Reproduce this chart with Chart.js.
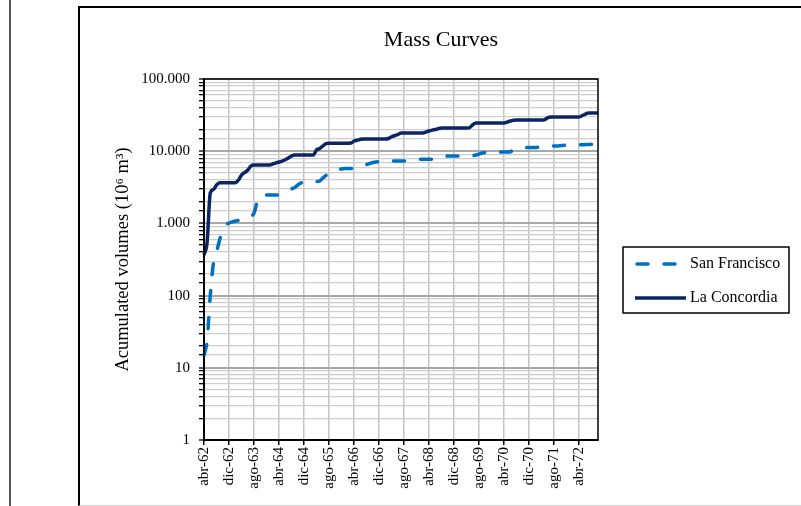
<!DOCTYPE html>
<html>
<head>
<meta charset="utf-8">
<script src="https://cdn.jsdelivr.net/npm/chart.js@4.4.0/dist/chart.umd.min.js"></script>
<style>
  html, body { margin: 0; padding: 0; background: #fff; }
  #wrap { position: relative; width: 801px; height: 506px; overflow: hidden; }
  #edge { position: absolute; left: 9px; top: 0; width: 2px; height: 506px; background: #555; }
  #frame { position: absolute; left: 78px; top: 6px; width: 760px; height: 497px;
           border-left: 2px solid #000; border-top: 2px solid #000; border-bottom: 1px solid #d4d4d4; }
  canvas { position: absolute; left: 0; top: 0; }
</style>
</head>
<body>
<div id="wrap">
  <div id="edge"></div>
  <div id="frame"></div>
  <canvas id="myChart" width="801" height="506"></canvas>
</div>
<script>
    // monthly series, abr-62 .. oct-72 (10^6 m3, accumulated)
    const monthNames = ['ene', 'feb', 'mar', 'abr', 'may', 'jun', 'jul', 'ago', 'sep', 'oct', 'nov', 'dic'];
    const startMonth = 3;   // abr
    const startYear = 62;
    const monthCount = 127;

    const sanFrancisco = [
      15, 24, 100, 280, 400, 590, 810, 950, 1010, 1050,
      1080, 1100, 1130, 1170, 1200, 1250, 1390, 1980, 2400, 2470,
      2470, 2470, 2470, 2470, 2480, 2600, 2760, 2900, 3010, 3140,
      3400, 3630, 3740, 3800, 3800, 3800, 3800, 3870, 4250, 4610,
      4830, 5070, 5320, 5580, 5670, 5760, 5760, 5760, 5760, 5950,
      6140, 6320, 6550, 6760, 6970, 7090, 7160, 7310, 7310, 7310,
      7310, 7310, 7310, 7310, 7310, 7380, 7430, 7500, 7600, 7720,
      7720, 7720, 7720, 7720, 7920, 8110, 8320, 8500, 8590, 8590,
      8590, 8590, 8590, 8590, 8590, 8620, 8690, 8860, 9150, 9440,
      9590, 9740, 9740, 9740, 9740, 9740, 9740, 9740, 9840, 10550,
      10900, 10970, 11250, 11250, 11250, 11250, 11250, 11330, 11330, 11430,
      11610, 11730, 11800, 11800, 11920, 12040, 12190, 12190, 12190, 12250,
      12250, 12300, 12350, 12400, 12450, 12470, 12470
    ];

    const laConcordia = [
      365, 552, 2640, 2950, 3400, 3660, 3660, 3660, 3660, 3660,
      3660, 3990, 4680, 5070, 5490, 6240, 6450, 6450, 6450, 6450,
      6450, 6450, 6650, 6870, 7090, 7270, 7600, 8050, 8590, 8860,
      8860, 8860, 8860, 8860, 8860, 8860, 10400, 10900, 11800, 12700,
      12880, 12880, 12880, 12880, 12880, 12880, 12880, 12950, 13850, 14150,
      14600, 14760, 14760, 14760, 14760, 14760, 14760, 14760, 14760, 15000,
      15850, 16500, 17020, 17860, 17860, 17860, 17860, 17860, 17860, 17860,
      17860, 18450, 19050, 19600, 19950, 20600, 20950, 20950, 20950, 20950,
      20950, 20950, 20950, 20950, 20950, 21300, 23400, 24560, 24560, 24560,
      24560, 24560, 24560, 24560, 24560, 24560, 24560, 25370, 26170, 26870,
      27060, 27060, 27060, 27060, 27060, 27060, 27060, 27060, 27060, 27470,
      29290, 29760, 29760, 29760, 29760, 29760, 29760, 29760, 29760, 29760,
      29760, 31180, 32730, 33810, 33810, 33810, 33810
    ];

    const labelEvery = 8;

    const months = [];
    for (let i = 0; i < monthCount; i++) {
      const m = (startMonth + i) % 12;
      const y = startYear + Math.floor((startMonth + i) / 12);
      months.push(monthNames[m] + '-' + y);
    }

    const serif = "'Liberation Serif', 'Times New Roman', serif";

    function isDecade(v) {
      const l = Math.log10(v);
      return Math.abs(l - Math.round(l)) < 1e-9;
    }
    function fmt(v) {
      return String(Math.round(v)).replace(/\B(?=(\d{3})+(?!\d))/g, '.');
    }

    // title, plot border and boxed legend
    const decor = {
      id: 'decor',
      afterDraw(chart) {
        const ctx = chart.ctx;
        const a = chart.chartArea;
        ctx.save();
        ctx.strokeStyle = '#000';
        ctx.lineWidth = 1.5;
        ctx.strokeRect(a.left, a.top, a.right - a.left, a.bottom - a.top);

        ctx.fillStyle = '#000';
        ctx.font = '22px ' + serif;
        ctx.textAlign = 'center';
        ctx.textBaseline = 'middle';
        ctx.fillText('Mass Curves', 441, 40);

        ctx.lineWidth = 1.5;
        ctx.strokeRect(623, 247, 166, 66);
        ctx.font = '16px ' + serif;
        ctx.textAlign = 'left';
        chart.data.datasets.forEach((ds, i) => {
          const y = 264 + i * 34;
          ctx.strokeStyle = ds.borderColor;
          ctx.lineWidth = ds.borderWidth;
          ctx.lineCap = ds.borderCapStyle || 'butt';
          ctx.setLineDash(ds.borderDash || []);
          ctx.beginPath();
          ctx.moveTo(ds.borderDash ? 637 : 635, y);
          ctx.lineTo(686, y);
          ctx.stroke();
          ctx.setLineDash([]);
          ctx.fillStyle = '#000';
          ctx.fillText(ds.label, 690, y);
        });
        ctx.restore();
      }
    };

    const ctx = document.getElementById('myChart').getContext('2d');
    const myChart = new Chart(ctx, {
      type: 'line',
      data: {
        labels: months,
        datasets: [{
          label: 'San Francisco',
          data: sanFrancisco,
          borderColor: '#0070c0',
          borderWidth: 3.5,
          borderDash: [11, 16],
          borderCapStyle: 'round',
          pointRadius: 0,
          cubicInterpolationMode: 'monotone'
        }, {
          label: 'La Concordia',
          data: laConcordia,
          borderColor: '#0b2464',
          borderWidth: 3.5,
          pointRadius: 0,
          cubicInterpolationMode: 'monotone'
        }]
      },
      options: {
        responsive: false,
        animation: false,
        layout: { padding: { left: 100, right: 203, top: 79, bottom: 0 } },
        plugins: {
          legend: { display: false },
          title: { display: false },
          tooltip: { enabled: false }
        },
        scales: {
          x: {
            type: 'category',
            afterFit: s => { s.height = 66; },
            ticks: {
              autoSkip: false,
              minRotation: 90,
              maxRotation: 90,
              padding: 2,
              color: '#000',
              font: { family: serif, size: 15 },
              callback: (v, i) => i % labelEvery === 0 ? months[i] : ''
            },
            grid: {
              color: c => c.index % labelEvery === 0 ? '#c4c4c4' : 'rgba(0,0,0,0)',
              tickColor: c => c.index % labelEvery === 0 ? '#000' : 'rgba(0,0,0,0)',
              lineWidth: 1.5,
              tickLength: 5,
              tickWidth: 1.5
            },
            border: { color: '#000', width: 2 }
          },
          y: {
            type: 'logarithmic',
            min: 1,
            max: 100000,
            afterFit: s => { s.width = 104; },
            title: {
              display: true,
              text: 'Acumulated volumes (10⁶ m³)',
              color: '#000',
              font: { family: serif, size: 18.5 },
              padding: { top: 12, bottom: 0 }
            },
            ticks: {
              autoSkip: false,
              padding: 9,
              color: '#000',
              font: { family: serif, size: 15 },
              callback: v => isDecade(v) ? fmt(v) : ''
            },
            grid: {
              color: c => (c.tick && isDecade(c.tick.value)) ? '#a8a8a8' : '#cdcdcd',
              lineWidth: c => (c.tick && isDecade(c.tick.value)) ? 2 : 1.3,
              tickColor: '#000',
              tickLength: 5,
              tickWidth: 1.3
            },
            border: { color: '#000', width: 2 }
          }
        }
      },
      plugins: [decor]
    });
</script>
</body>
</html>
